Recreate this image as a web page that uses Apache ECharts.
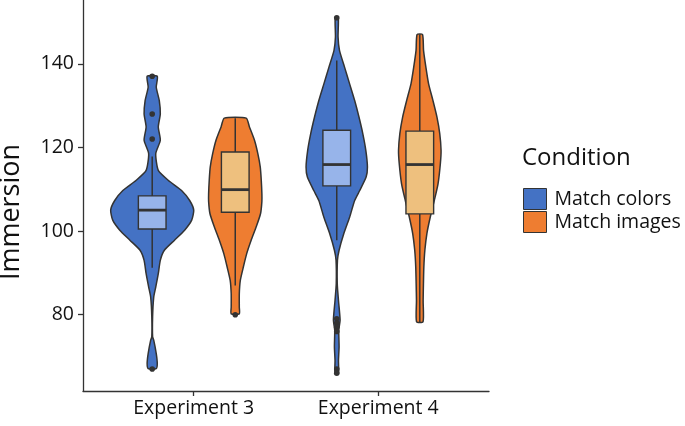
<!DOCTYPE html>
<html>
<head>
<meta charset="utf-8">
<script src="https://cdn.jsdelivr.net/npm/echarts@6/dist/echarts.min.js"></script>
<style>
  html, body { margin: 0; padding: 0; background: #fff; }
  #chart { width: 685px; height: 426px; }
</style>
</head>
<body>
<div id="chart"></div>
<script>
// categories / groups
var categories = ["Experiment 3", "Experiment 4"];
var conditions = ["Match colors", "Match images"];
var yTicks = [80, 100, 120, 140];

// violin outlines: [Immersion, density (half width)]
var colorsExp3Violin = [
  [137.0, 5], [134.4, 4], [131.2, 7], [128.0, 8], [124.9, 6], [121.7, 8],
  [118.5, 3.5], [114.5, 6], [112.1, 16], [109.7, 29], [107.3, 37], [105.0, 41],
  [102.6, 39], [100.2, 32], [97.8, 22], [95.4, 12], [93.0, 8], [89.8, 6],
  [86.6, 3.5], [84.2, 1.5], [79.5, 0.4], [74.7, 0.4], [73.9, 1.5], [70.7, 4],
  [68.3, 5], [67.1, 4]
];
var imagesExp3Violin = [
  [127.0, 10.8], [124.9, 14], [121.7, 19], [118.5, 22.3], [115.3, 24.7],
  [112.1, 25.7], [108.9, 26.3], [107.1, 26.3], [104.2, 25], [101.0, 20.7],
  [97.8, 15.7], [94.6, 11.3], [91.4, 8], [88.2, 5], [85.0, 4], [81.8, 4], [80.2, 4]
];
var colorsExp4Violin = [
  [151.1, 1.5], [146.4, 1.3], [143.2, 2.7], [139.2, 7.7], [135.2, 12.7],
  [131.2, 17.7], [127.2, 22], [123.3, 25.7], [119.3, 28.7], [115.3, 30.3],
  [112.9, 29], [109.7, 22.7], [107.3, 17.7], [103.3, 12.7], [99.4, 7],
  [95.4, 2.3], [93.0, 0.7], [87.4, 0.5], [83.4, 1.7], [78.7, 3.3], [76.3, 2],
  [72.3, 2.3], [69.1, 1.7], [65.9, 1.7]
];
var imagesExp4Violin = [
  [147.0, 2.7], [143.2, 3.7], [139.2, 6], [135.2, 8.7], [131.2, 13],
  [127.2, 17], [123.3, 19.7], [119.3, 21], [116.1, 20.3], [111.3, 18],
  [107.3, 14.3], [103.3, 10.3], [99.4, 7], [95.4, 5], [91.4, 4], [87.4, 3.6],
  [83.4, 3.3], [78.3, 3.2]
];

// boxplots: [lower whisker, Q1, median, Q3, upper whisker]
var colorsBoxes = [[91.2, 100.5, 105.0, 108.4, 117.8], [97.8, 110.8, 115.9, 124.1, 140.8]];
var imagesBoxes = [[87.0, 104.5, 109.9, 118.9, 127.0], [78.0, 104.1, 115.9, 123.9, 147.0]];

// outliers
var colorsOutliers = [[137, 128, 122, 67], [151, 79, 78, 77, 76, 67, 66]];
var imagesOutliers = [[80], []];

var violins = [[colorsExp3Violin, colorsExp4Violin], [imagesExp3Violin, imagesExp4Violin]];
var boxes = [colorsBoxes, imagesBoxes];
var outliers = [colorsOutliers, imagesOutliers];

var fills = ["#4472C4", "#EE7D31"];
var boxFills = ["#97B4EA", "#EEC07E"];
var dodge = [-0.225, 0.225];
var line = "#333333";
var ink = "#111111";

var densMax = 0;
violins.forEach(function (s) {
  s.forEach(function (p) {
    p.forEach(function (d) { if (d[1] > densMax) densMax = d[1]; });
  });
});

function renderItem(params, api) {
  var s = params.seriesIndex;
  var g = params.dataIndex;
  var xc = api.coord([g + 1 + dodge[s], 100])[0];
  var unit = api.size([1, 0])[0];
  var maxHalf = 0.225 * unit;
  var y = function (v) { return api.coord([1, v])[1]; };

  var prof = violins[s][g];
  var left = prof.map(function (d) { return [xc - d[1] / densMax * maxHalf, y(d[0])]; });
  var right = prof.map(function (d) { return [xc + d[1] / densMax * maxHalf, y(d[0])]; }).reverse();

  var b = boxes[s][g];
  var bw = 0.15 * unit;
  var children = [];
  children.push({
    type: "polygon",
    shape: { points: left.concat(right), smooth: 0.2 },
    style: { fill: fills[s], stroke: line, lineWidth: 1.5 }
  });
  children.push({
    type: "line",
    shape: { x1: xc, y1: y(b[4]), x2: xc, y2: y(b[3]) },
    style: { stroke: line, lineWidth: 1.5 }
  });
  children.push({
    type: "line",
    shape: { x1: xc, y1: y(b[1]), x2: xc, y2: y(b[0]) },
    style: { stroke: line, lineWidth: 1.5 }
  });
  children.push({
    type: "rect",
    shape: { x: xc - bw / 2, y: y(b[3]), width: bw, height: y(b[1]) - y(b[3]) },
    style: { fill: boxFills[s], stroke: line, lineWidth: 1.4 }
  });
  children.push({
    type: "line",
    shape: { x1: xc - bw / 2, y1: y(b[2]), x2: xc + bw / 2, y2: y(b[2]) },
    style: { stroke: line, lineWidth: 2.8 }
  });
  outliers[s][g].forEach(function (v) {
    children.push({
      type: "circle",
      shape: { cx: xc, cy: y(v), r: 2.8 },
      style: { fill: line }
    });
  });
  return { type: "group", children: children };
}

var chart = echarts.init(document.getElementById("chart"));
var option = {
  animation: false,
  textStyle: { fontFamily: "Open Sans" },
  grid: { left: 83, right: 196, top: 0, bottom: 35 },
  xAxis: {
    type: "value",
    min: 0.4,
    max: 2.6,
    splitLine: { show: false },
    axisLine: { show: true, lineStyle: { color: line, width: 1.3 } },
    axisTick: { show: true, length: 5, customValues: [1, 2], lineStyle: { color: line, width: 1.3 } },
    axisLabel: {
      customValues: [1, 2],
      margin: 7,
      fontSize: 19.5,
      color: ink,
      formatter: function (v) { return categories[Math.round(v) - 1]; }
    }
  },
  yAxis: {
    type: "value",
    min: 61.75,
    max: 155.25,
    splitLine: { show: false },
    axisLine: { show: true, lineStyle: { color: line, width: 1.3 } },
    axisTick: { show: true, length: 5, customValues: yTicks, lineStyle: { color: line, width: 1.3 } },
    axisLabel: { customValues: yTicks, margin: 9, fontSize: 19.5, color: ink }
  },
  legend: {
    data: conditions,
    orient: "vertical",
    left: 523,
    top: 188,
    padding: 0,
    itemWidth: 23,
    itemHeight: 21,
    itemGap: 1,
    icon: "rect",
    selectedMode: false,
    itemStyle: { borderColor: line, borderWidth: 1 },
    textStyle: { fontSize: 19.5, color: ink, padding: [0, 0, 0, 3] }
  },
  graphic: [
    {
      type: "text",
      x: 11, y: 212, rotation: Math.PI / 2,
      style: { text: "Immersion", fontSize: 27, fontFamily: "Open Sans", fill: ink, align: "center", verticalAlign: "middle" }
    },
    {
      type: "text",
      x: 522, y: 158,
      style: { text: "Condition", fontSize: 24, fontFamily: "Open Sans", fill: ink, align: "left", verticalAlign: "middle" }
    }
  ],
  series: conditions.map(function (name, i) {
    return {
      name: name,
      type: "custom",
      renderItem: renderItem,
      itemStyle: { color: fills[i], borderColor: line, borderWidth: 1 },
      encode: { x: 0, y: 1 },
      data: [[1, 105], [2, 105]]
    };
  })
};
chart.setOption(option);
</script>
</body>
</html>
